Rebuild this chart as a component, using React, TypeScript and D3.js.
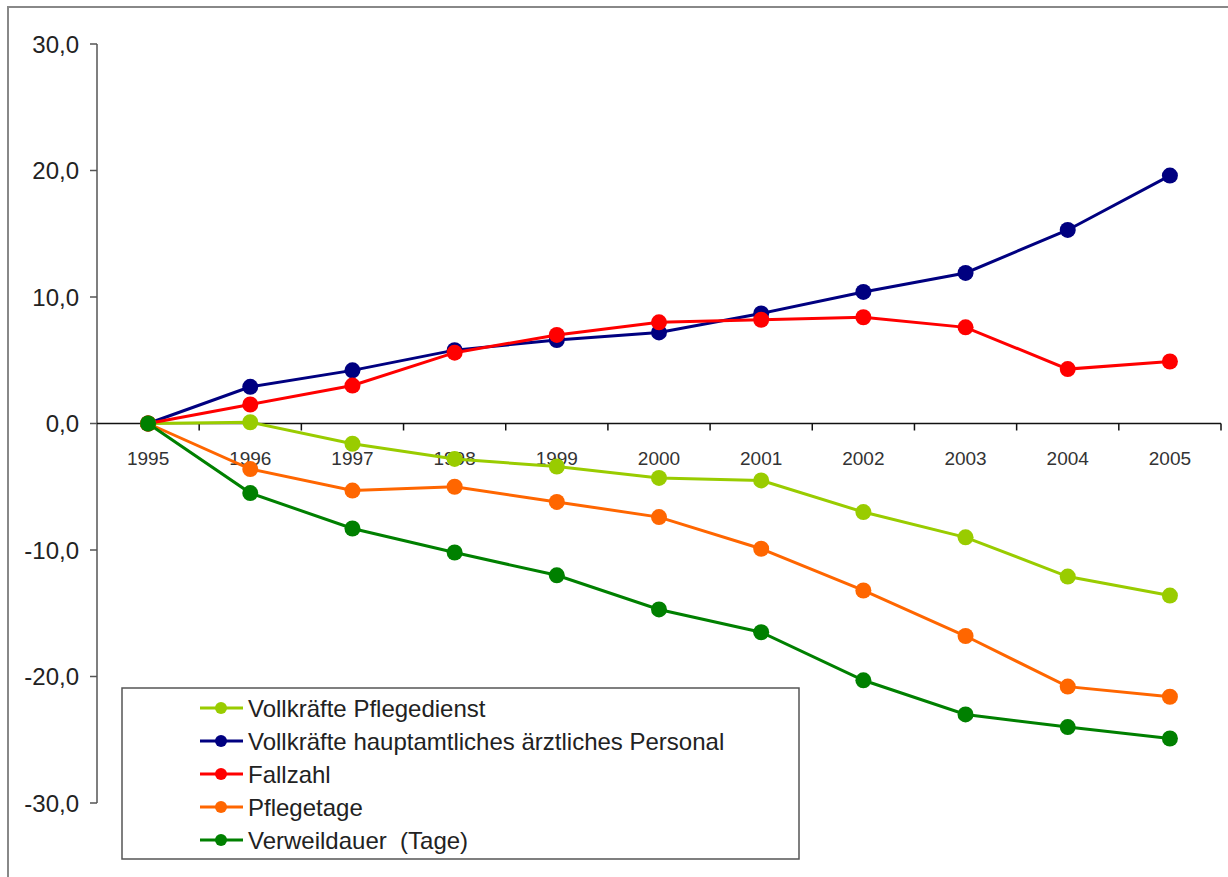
import * as d3 from "d3";

const years = ["1995", "1996", "1997", "1998", "1999", "2000", "2001", "2002", "2003", "2004", "2005"];
const pflegedienst = [0, 0.1, -1.6, -2.8, -3.4, -4.3, -4.5, -7.0, -9.0, -12.1, -13.6];
const aerztlich = [0, 2.9, 4.2, 5.8, 6.6, 7.2, 8.7, 10.4, 11.9, 15.3, 19.6];
const fallzahl = [0, 1.5, 3.0, 5.6, 7.0, 8.0, 8.2, 8.4, 7.6, 4.3, 4.9];
const pflegetage = [0, -3.6, -5.3, -5.0, -6.2, -7.4, -9.9, -13.2, -16.8, -20.8, -21.6];
const verweildauer = [0, -5.5, -8.3, -10.2, -12.0, -14.7, -16.5, -20.3, -23.0, -24.0, -24.9];
const yTicks = [30, 20, 10, 0, -10, -20, -30];

const series = [
	{ name: "Vollkräfte Pflegedienst", color: "#99cc00", values: pflegedienst },
	{ name: "Vollkräfte hauptamtliches ärztliches Personal", color: "#000080", values: aerztlich },
	{ name: "Fallzahl", color: "#ff0000", values: fallzahl },
	{ name: "Pflegetage", color: "#ff6600", values: pflegetage },
	{ name: "Verweildauer  (Tage)", color: "#008000", values: verweildauer },
];

function App() {
	const width = 1228;
	const height = 877;
	const x = d3.scaleBand<string>().domain(years).range([97, 1221]);
	const y = d3.scaleLinear().domain([-30, 30]).range([803, 44]);
	const cx = (yr: string) => (x(yr) as number) + x.bandwidth() / 2;
	const line = d3
		.line<number>()
		.x((_, i) => cx(years[i]))
		.y((d) => y(d));
	const font = "'Liberation Sans', Arial, sans-serif";

	return (
		<svg
			width={width}
			height={height}
			style={{ position: "absolute", left: 0, top: 0, background: "#fff" }}
			fontFamily={font}
		>
			<rect x={8} y={7} width={1240} height={880} fill="#fff" stroke="#888" strokeWidth={2} />

			{/* y axis */}
			<line x1={97} x2={97} y1={y(30)} y2={y(-30)} stroke="#555" strokeWidth={1.5} />
			{yTicks.map((t) => (
				<g key={t}>
					<line x1={90} x2={97} y1={y(t)} y2={y(t)} stroke="#555" strokeWidth={1.5} />
					<text x={79} y={y(t)} dy="0.36em" textAnchor="end" fontSize={24} fill="#222">
						{d3.format(".1f")(t).replace(".", ",").replace("−", "-")}
					</text>
				</g>
			))}

			{/* x axis */}
			<line x1={97} x2={1221} y1={y(0)} y2={y(0)} stroke="#111" strokeWidth={1.5} />
			{years.map((yr, i) => (
				<g key={yr}>
					{i > 0 && (
						<line x1={x(yr)} x2={x(yr)} y1={y(0)} y2={y(0) + 7} stroke="#111" strokeWidth={1.5} />
					)}
					<text x={cx(yr)} y={465} textAnchor="middle" fontSize={19} fill="#333">
						{yr}
					</text>
				</g>
			))}
			<line x1={1221} x2={1221} y1={y(0)} y2={y(0) + 7} stroke="#111" strokeWidth={1.5} />

			{/* series */}
			{series.map((s) => (
				<g key={s.name}>
					<path d={line(s.values) as string} fill="none" stroke={s.color} strokeWidth={3} />
					{s.values.map((v, i) => (
						<circle key={i} cx={cx(years[i])} cy={y(v)} r={8} fill={s.color} />
					))}
				</g>
			))}

			{/* legend */}
			<rect x={122} y={688} width={677} height={171} fill="#fff" stroke="#555" strokeWidth={1.5} />
			{series.map((s, i) => {
				const ly = 708 + i * 33;
				return (
					<g key={s.name}>
						<line x1={200} x2={243} y1={ly} y2={ly} stroke={s.color} strokeWidth={3} />
						<circle cx={221} cy={ly} r={6} fill={s.color} />
						<text
							x={248}
							y={ly}
							dy="0.36em"
							fontSize={24}
							fill="#222"
							style={{ whiteSpace: "pre" }}
						>
							{s.name}
						</text>
					</g>
				);
			})}
		</svg>
	);
}

export default App;
